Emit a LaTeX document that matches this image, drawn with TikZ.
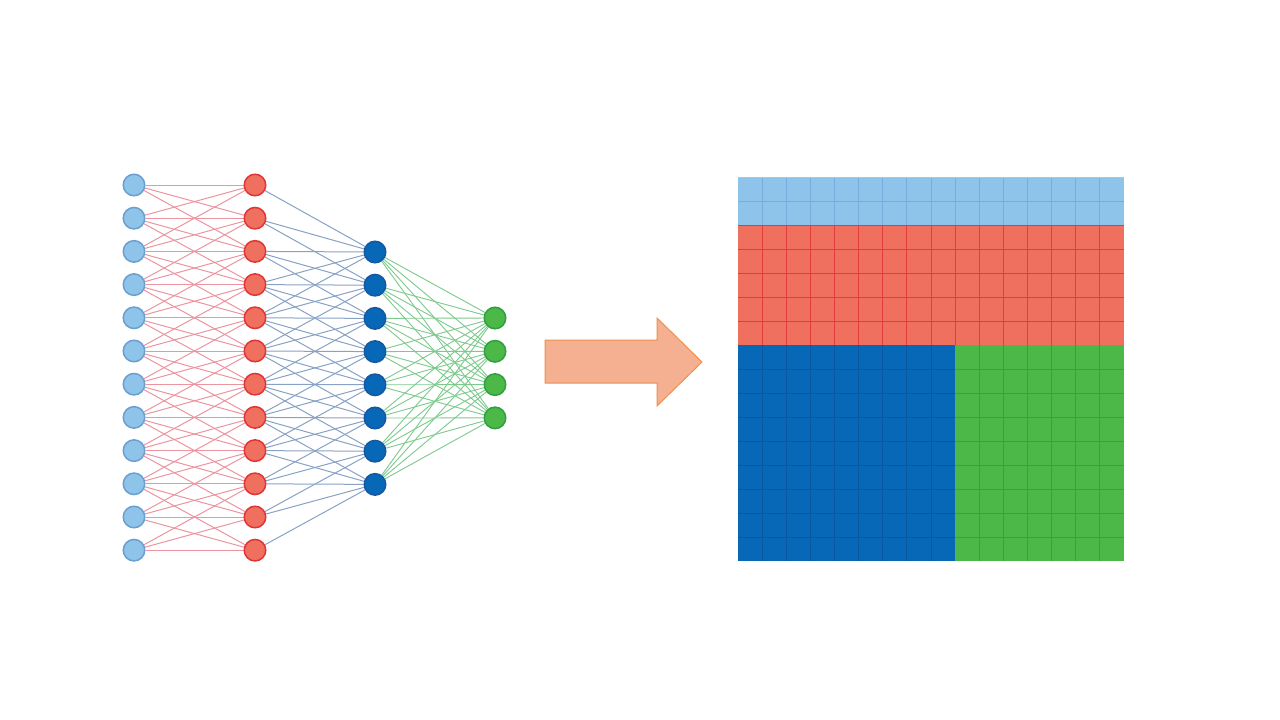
\documentclass[tikz,border=0pt]{standalone}
\usetikzlibrary{backgrounds}
\definecolor{lbfill}{HTML}{8EC3EA}
\definecolor{lbdraw}{HTML}{6A9FD0}
\definecolor{rdfill}{HTML}{F07060}
\definecolor{rddraw}{HTML}{E03535}
\definecolor{dbfill}{HTML}{0868B8}
\definecolor{dbdraw}{HTML}{1558A0}
\definecolor{gnfill}{HTML}{4CB848}
\definecolor{gndraw}{HTML}{2EA040}
\definecolor{redge}{HTML}{EC94A0}
\definecolor{bedge}{HTML}{88A2C6}
\definecolor{gedge}{HTML}{7CCA8C}
\definecolor{arrfill}{HTML}{F4B090}
\definecolor{arrdraw}{HTML}{F0904C}
\definecolor{lbline}{HTML}{78ACDA}
\definecolor{rdline}{HTML}{E03E3E}
\definecolor{dbline}{HTML}{0A58A0}
\definecolor{gnline}{HTML}{34A436}
\tikzset{
  neuron/.style={circle, minimum size=21.5pt, inner sep=0pt, line width=1.5pt},
  lone/.style={neuron, fill=lbfill, draw=lbdraw},
  ltwo/.style={neuron, fill=rdfill, draw=rddraw},
  lthree/.style={neuron, fill=dbfill, draw=dbdraw},
  lfour/.style={neuron, fill=gnfill, draw=gndraw},
  eone/.style={draw=redge, line width=1pt},
  etwo/.style={draw=bedge, line width=1pt},
  ethree/.style={draw=gedge, line width=0.9pt},
  gline/.style={line width=1pt},
  bigarrow/.style={fill=arrfill, draw=arrdraw, line width=1pt, line join=miter}
}
\begin{document}
\begin{tikzpicture}[x=1pt,y=-1pt]
\useasboundingbox (0,0) rectangle (1280,720);
\begin{pgfonlayer}{background}
\fill[white] (0,0) rectangle (1280,720);
\end{pgfonlayer}
% neurons
\foreach \i in {1,...,12} {
  \node[lone] (a\i) at (134, {185+(\i-1)*33.2}) {};
  \node[ltwo] (b\i) at (255, {185+(\i-1)*33.2}) {};
}
\foreach \k in {1,...,8} {
  \node[lthree] (c\k) at (375, {252+(\k-1)*33.2}) {};
}
\foreach \m in {1,...,4} {
  \node[lfour] (d\m) at (495, {318+(\m-1)*33.3}) {};
}
% connections
\begin{pgfonlayer}{background}
\foreach \i in {1,...,12} {
  \foreach \j in {1,...,12} {
    \pgfmathtruncatemacro{\dd}{abs(\i-\j)}
    \ifnum\dd<3 \draw[eone] (a\i) -- (b\j); \fi
  }
}
\foreach \j in {1,...,12} {
  \foreach \k in {1,...,8} {
    \pgfmathtruncatemacro{\dd}{abs(\j-\k-2)}
    \ifnum\dd<3 \draw[etwo] (b\j) -- (c\k); \fi
  }
}
\foreach \k in {1,...,8} {
  \foreach \m in {1,...,4} {
    \draw[ethree] (c\k) -- (d\m);
  }
}
\end{pgfonlayer}
% big arrow
\draw[bigarrow] (545,340) -- (657,340) -- (657,318) -- (702,362) -- (657,406) -- (657,383) -- (545,383) -- cycle;
% grid
\def\cw{24.125}
\def\ch{24}
\fill[lbfill] (738,177) rectangle (1124,225);
\fill[rdfill] (738,225) rectangle (1124,345);
\fill[dbfill] (738,345) rectangle ({738+9*\cw},561);
\fill[gnfill] ({738+9*\cw},345) rectangle (1124,561);
% grid lines
\foreach \c in {1,...,15} {
  \draw[lbline, gline] ({738+\c*\cw},177) -- ({738+\c*\cw},225);
  \draw[rdline, gline] ({738+\c*\cw},225) -- ({738+\c*\cw},345);
}
\foreach \c in {1,...,8} {
  \draw[dbline, gline] ({738+\c*\cw},345) -- ({738+\c*\cw},561);
}
\foreach \c in {10,...,15} {
  \draw[gnline, gline] ({738+\c*\cw},345) -- ({738+\c*\cw},561);
}
\draw[lbline, gline] (738,201) -- (1124,201);
\foreach \r in {10,...,14} {
  \draw[rdline, gline] (738,{\r*\ch-15}) -- (1124,{\r*\ch-15});
}
\foreach \r in {16,...,23} {
  \draw[dbline, gline] (738,{\r*\ch-15}) -- ({738+9*\cw},{\r*\ch-15});
  \draw[gnline, gline] ({738+9*\cw},{\r*\ch-15}) -- (1124,{\r*\ch-15});
}
\draw[gray!50, line width=0.6pt] (738,177) -- (1124,177);
\end{tikzpicture}
\end{document}
